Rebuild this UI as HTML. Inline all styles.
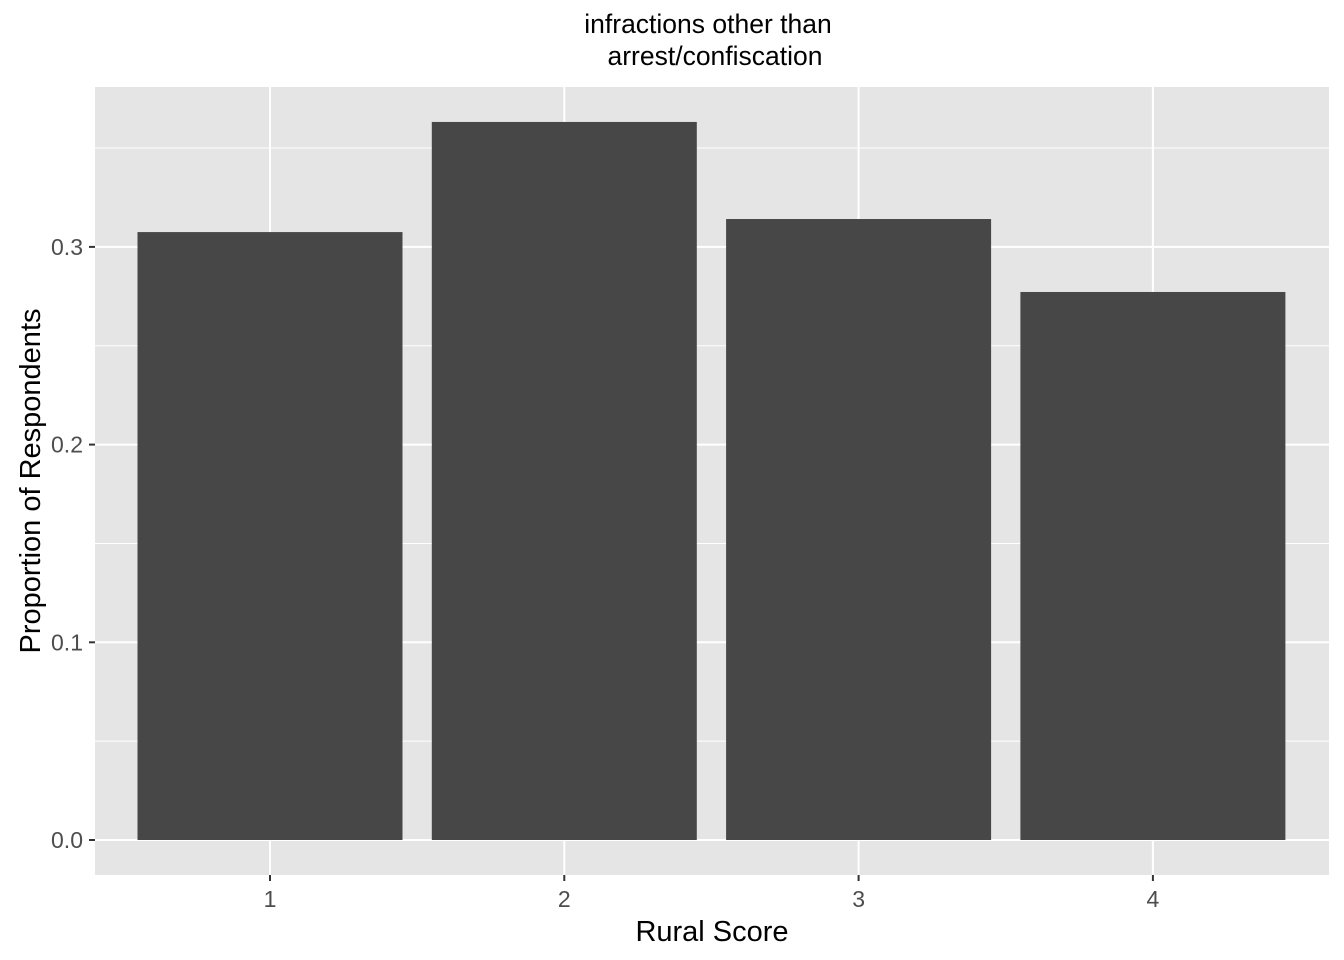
<!DOCTYPE html>
<html><head><meta charset="utf-8"><style>
body{margin:0;background:#fff;}
svg{display:block;font-family:"Liberation Sans",Arial,sans-serif;}
</style></head><body>
<svg id="chart" width="1344" height="960">
<text x="708" y="33" text-anchor="middle" font-size="26.5" fill="#000">infractions other than</text>
<text x="715" y="65" text-anchor="middle" font-size="26.5" fill="#000">arrest/confiscation</text>
<rect x="95" y="87" width="1234" height="788" fill="#e5e5e5"/>
<g id="grid"></g><g id="bars"></g><g id="axes"></g>
<text x="712" y="941" text-anchor="middle" font-size="29" fill="#000">Rural Score</text>
<text transform="translate(40,481) rotate(-90)" text-anchor="middle" font-size="29" fill="#000">Proportion of Respondents</text>
</svg>
<script>
const categories = ["1","2","3","4"];
const values = [0.3075, 0.3632, 0.3141, 0.2772];
const yTicks = [0, 0.1, 0.2, 0.3];
const yTickLabels = ["0.0","0.1","0.2","0.3"];
const yMinor = [0.05, 0.15, 0.25, 0.35];

const NS="http://www.w3.org/2000/svg";
const y = v => 840 - v*1977;
const x = i => 270 + i*294.3;
const bw = 265;
function mk(tag, attrs, parent){const e=document.createElementNS(NS,tag);for(const k in attrs)e.setAttribute(k,attrs[k]);document.getElementById(parent).appendChild(e);return e;}
yMinor.forEach(v=>{
  const l=mk('line',{x1:95,x2:1329,y1:y(v),y2:y(v),stroke:'#fff','stroke-width':1},'grid');
  
  
});
yTicks.forEach((v,i)=>{
  const l=mk('line',{x1:95,x2:1329,y1:y(v),y2:y(v),stroke:'#fff','stroke-width':2},'grid');
  
  
  const t=mk('line',{x1:89,x2:95,y1:y(v),y2:y(v),stroke:'#333','stroke-width':2},'axes');
  
  
  const tx=mk('text',{x:83,y:y(v)+8,'text-anchor':'end','font-size':23,fill:'#4d4d4d'},'axes');
  tx.textContent=yTickLabels[i];
  
  
});
categories.forEach((c,i)=>{
  const l=mk('line',{x1:x(i),x2:x(i),y1:87,y2:875,stroke:'#fff','stroke-width':2},'grid');
  
  
  const r=mk('rect',{x:x(i)-bw/2,y:y(values[i]),width:bw,height:y(0)-y(values[i]),fill:'#474747'},'bars');
  
  
  const t=mk('line',{x1:x(i),x2:x(i),y1:875,y2:881,stroke:'#333','stroke-width':2},'axes');
  
  
  const tx=mk('text',{x:x(i),y:907,'text-anchor':'middle','font-size':23,fill:'#4d4d4d'},'axes');
  tx.textContent=c;
  
  
});
</script>
</body></html>
